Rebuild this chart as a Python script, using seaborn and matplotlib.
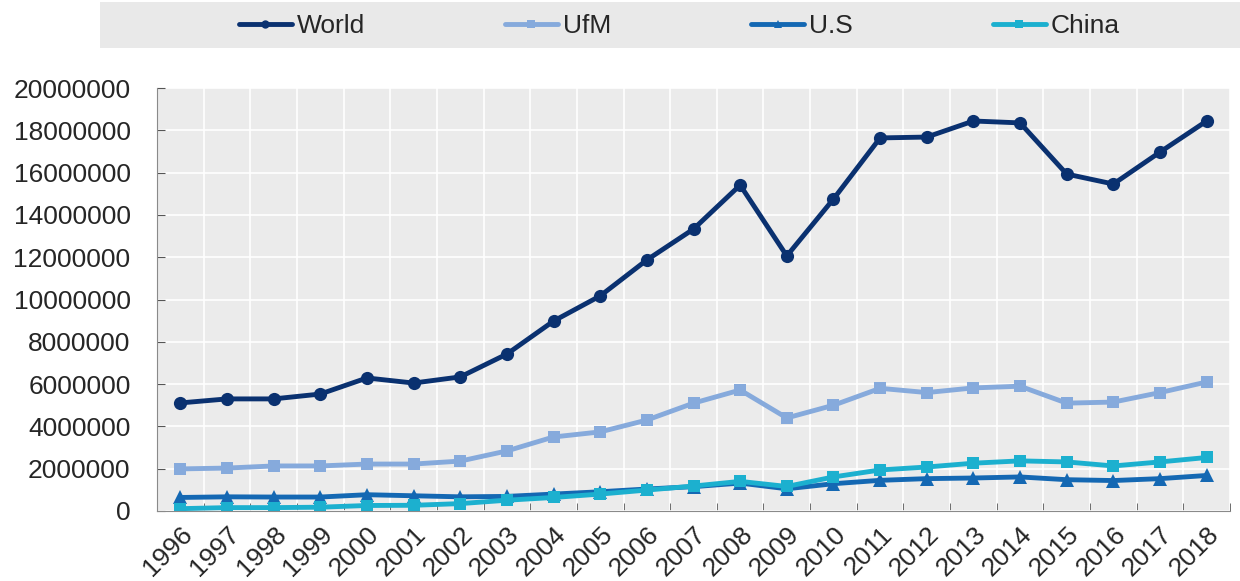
import numpy as np
import pandas as pd
import seaborn as sns
import matplotlib.pyplot as plt
from matplotlib.patches import Rectangle
from matplotlib.lines import Line2D

years = [str(y) for y in range(1996, 2019)]
world = [5.11, 5.30, 5.30, 5.53, 6.29, 6.05, 6.34, 7.42, 8.98, 10.17, 11.87, 13.33,
         15.41, 12.06, 14.75, 17.64, 17.68, 18.44, 18.35, 15.93, 15.46, 16.97, 18.44]
ufm = [1.99, 2.03, 2.13, 2.13, 2.22, 2.22, 2.36, 2.84, 3.50, 3.74, 4.30, 5.10,
       5.72, 4.40, 5.00, 5.80, 5.60, 5.82, 5.90, 5.10, 5.15, 5.60, 6.10]
us = [0.64, 0.67, 0.66, 0.66, 0.77, 0.72, 0.67, 0.69, 0.80, 0.91, 1.04, 1.15,
      1.32, 1.05, 1.29, 1.45, 1.53, 1.56, 1.61, 1.48, 1.44, 1.53, 1.68]
china = [0.11, 0.16, 0.16, 0.18, 0.26, 0.27, 0.35, 0.51, 0.64, 0.80, 0.99, 1.18,
         1.40, 1.16, 1.61, 1.94, 2.08, 2.26, 2.37, 2.32, 2.13, 2.32, 2.53]

series = ['World', 'UfM', 'U.S', 'China']
colors = {'World': '#0a3170', 'UfM': '#86aadc', 'U.S': '#1468b3', 'China': '#1cb0cf'}
markers = {'World': 'o', 'UfM': 's', 'U.S': '^', 'China': 's'}
msizes = {'World': 9.5, 'UfM': 9, 'U.S': 9.5, 'China': 9}

df = pd.DataFrame({'year': years, 'World': world, 'UfM': ufm, 'U.S': us, 'China': china})
df['x'] = np.arange(len(years))
for s in series:
    df[s] = df[s] * 1e6

sns.set_style('ticks', {'axes.facecolor': '#ebebeb', 'axes.edgecolor': '#8a8a8a'})
plt.rcParams['font.family'] = ['Liberation Sans', 'DejaVu Sans']

fig = plt.figure(figsize=(12.4, 5.81), dpi=100)
ax = fig.add_axes([157 / 1240, 1 - 511 / 581, (1230 - 157) / 1240, (511 - 88) / 581])

for s in series:
    sns.lineplot(data=df, x='x', y=s, ax=ax, color=colors[s], marker=markers[s],
                 markersize=msizes[s], linewidth=3.5,
                 markeredgecolor=colors[s], markeredgewidth=0, legend=False)

ax.set_xlim(-0.5, len(years) - 0.5)
ax.set_ylim(0, 20000000)
ax.set_yticks(np.arange(0, 20000001, 2000000))
ax.set_yticklabels([f'{int(v)}' for v in np.arange(0, 20000001, 2000000)], fontsize=19)
ax.set_xticks(df['x'])
ax.set_xticklabels(years, fontsize=19, rotation=45, ha='right', rotation_mode='anchor')
ax.set_xticks(np.arange(-0.5, len(years)), minor=True)
ax.tick_params(axis='x', which='major', length=0, pad=8)
ax.tick_params(axis='x', which='minor', direction='in', length=6, color='#555555')
ax.tick_params(axis='y', direction='in', length=6, color='#555555', pad=19)
ax.grid(True, axis='y', color='white', linewidth=1.2)
ax.grid(True, axis='x', which='minor', color='white', linewidth=1.2)
ax.set_axisbelow(True)
ax.set_xlabel('')
ax.set_ylabel('')
for side in ['top', 'right']:
    ax.spines[side].set_visible(False)

# grey legend band on top
fig.patches.append(Rectangle((100 / 1240, 1 - 48 / 581), 1140 / 1240, 46 / 581,
                             transform=fig.transFigure, facecolor='#e9e9e9',
                             edgecolor='none', zorder=0))
handles = [Line2D([], [], color=colors[s], marker=markers[s], markersize=6,
                  markeredgewidth=0, linewidth=3.5) for s in series]
fig.legend(handles, series, loc='center', bbox_to_anchor=(0.548, 1 - 26 / 581),
           ncol=4, frameon=False, fontsize=19, handlelength=2.0,
           handletextpad=0.2, columnspacing=5.3)

fig.savefig('out.png', dpi=100)
